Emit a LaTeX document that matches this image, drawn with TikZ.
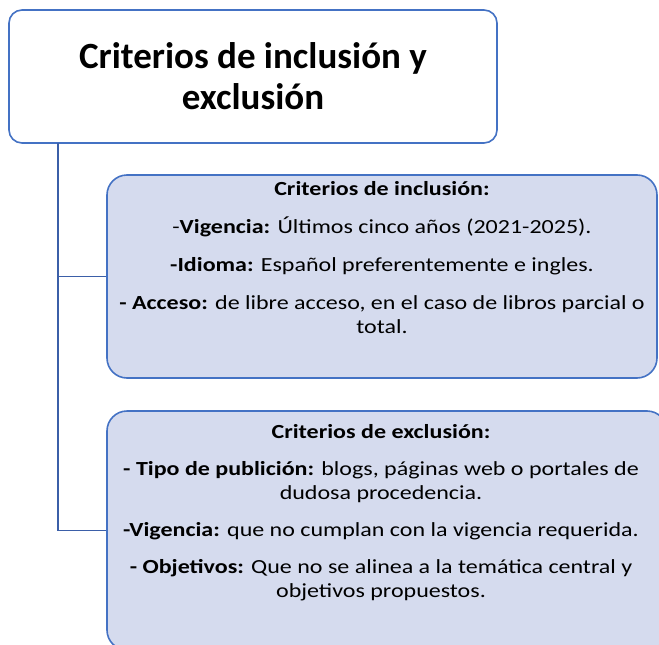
\documentclass[tikz,border=0pt]{standalone}
\usepackage{fontspec}
\setmainfont{Carlito}
\newfontfamily\critfont[FakeStretch=1.2]{Carlito}
\usetikzlibrary{positioning}

\definecolor{boxblue}{HTML}{4472C4}
\definecolor{linkblue}{HTML}{3B5FA8}
\definecolor{boxfill}{HTML}{D5DBEE}

\begin{document}
\begin{tikzpicture}[x=1pt,y=-1pt,
    titlebox/.style={draw=boxblue, line width=1.6pt, fill=white, rounded corners=13pt,
                     minimum width=488pt, minimum height=133pt, align=center, text depth=1pt,
                     font=\fontsize{37}{41}\selectfont\bfseries},
    critbox/.style={draw=boxblue, line width=1.6pt, fill=boxfill, rounded corners=20pt},
    crittext/.style={align=center, inner sep=0pt, font=\critfont\fontsize{20}{24}\selectfont},
    link/.style={draw=linkblue, line width=1.4pt}]
  % frame of the picture
  \useasboundingbox (0,0) rectangle (659,645);
  \clip (0,0) rectangle (659,645);
  % heading
  \node[titlebox] (title) at (253,76.5) {Criterios de inclusión y\\exclusión};
  % the two boxes of criteria
  \node[critbox, minimum width=550pt, minimum height=203pt] (inc) at (382,276.5) {};
  \node[critbox, minimum width=560pt, minimum height=239pt] (exc) at (387,530.5) {};
  \node[crittext, below=7pt of inc.north] (inctext)
    {\textbf{Criterios de inclusión:}\\[14pt]
     -\textbf{Vigencia:} Últimos cinco años (2021-2025).\\[14pt]
     \textbf{-Idioma:} Español preferentemente e ingles.\\[14pt]
     \textbf{- Acceso:} de libre acceso, en el caso de libros parcial o\\
     total.};
  \node[crittext, below=14pt of exc.north, xshift=-6pt] (exctext)
    {\textbf{Criterios de exclusión:}\\[13pt]
     \textbf{- Tipo de publición:} blogs, páginas web o portales de\\
     dudosa procedencia.\\[13pt]
     \textbf{-Vigencia:} que no cumplan con la vigencia requerida.\\[13pt]
     \textbf{- Objetivos:} Que no se alinea a la temática central y\\
     objetivos propuestos.};
  % connectors
  \coordinate (trunk) at (58,143);
  \draw[link] (trunk) |- (inc.west);
  \draw[link] (trunk) |- (exc.west);
\end{tikzpicture}
\end{document}
